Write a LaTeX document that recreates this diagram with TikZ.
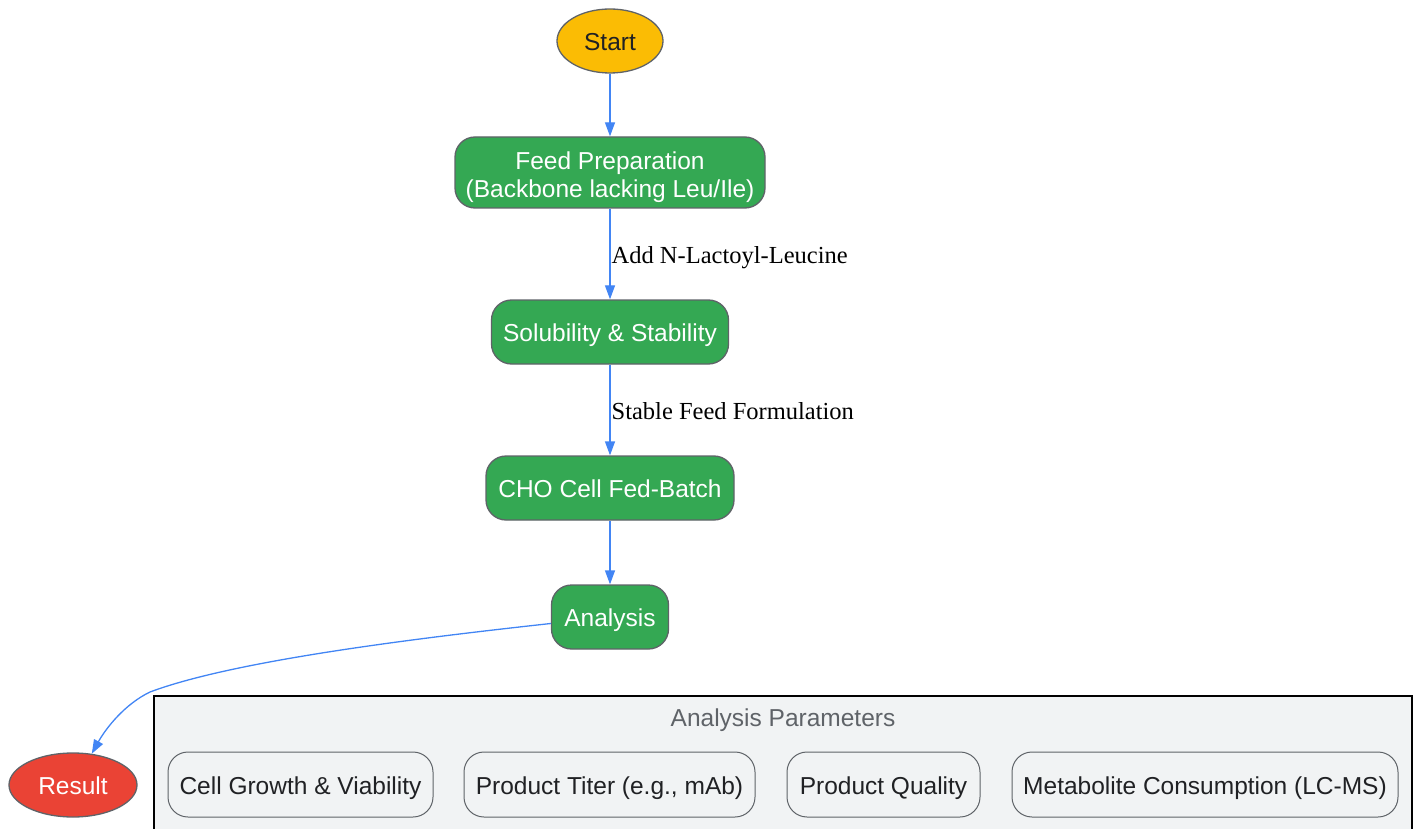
\documentclass[tikz,border=0pt]{standalone}
\usepackage{fontspec}
\setmainfont{Liberation Serif}
\newfontfamily\sansf{Liberation Sans}
\usepackage{tikz}
\usetikzlibrary{shapes.geometric,arrows.meta,positioning}

\definecolor{gyellow}{HTML}{FBBC04}
\definecolor{ggreen}{HTML}{34A853}
\definecolor{gred}{HTML}{EA4335}
\definecolor{gblue}{HTML}{4285F4}
\definecolor{gborder}{HTML}{5F6368}
\definecolor{gpanel}{HTML}{F1F3F4}
\definecolor{gtext}{HTML}{202124}

\begin{document}
\begin{tikzpicture}[x=1pt, y=-1pt, font=\sansf\fontsize{24.5}{28}\selectfont,
  oneline/.style={text height=19.6pt, text depth=0pt},
  stage/.style={rectangle, draw=gborder, line width=1.3pt, rounded corners=20pt, fill=ggreen, text=white, minimum height=64pt, align=center},
  oval/.style={ellipse, draw=gborder, line width=1.3pt, minimum height=64pt, inner sep=0pt, oneline},
  param/.style={rectangle, draw=gborder, line width=1pt, rounded corners=20pt, fill=gpanel, text=gtext, minimum height=65pt, oneline},
  flow/.style={draw=gblue, line width=1.3pt, -{Triangle[length=14pt,width=10pt]}},
  edgelabel/.style={right, inner sep=1pt, font=\rmfamily\fontsize{24.5}{28}\selectfont, text=black, oneline}]
  \useasboundingbox (0,0) rectangle (1417,829);

  % main chain
  \node[oval, fill=gyellow, text=gtext, minimum width=106pt] (start) at (610,41) {Start};
  \node[stage, minimum width=310pt, minimum height=71pt] (feed) at (610,172.5) {\rule{0pt}{28pt}Feed Preparation\\(Backbone lacking Leu/Ile)};
  \node[stage, oneline, minimum width=237pt] (sol) at (610,332) {Solubility \& Stability};
  \node[stage, oneline, minimum width=248pt] (cho) at (610,488) {CHO Cell Fed-Batch};
  \node[stage, oneline, minimum width=117pt] (ana) at (610,617) {Analysis};
  \node[oval, fill=gred, text=white, minimum width=128pt] (res) at (73,785) {Result};

  % analysis parameters
  \filldraw[draw=black, line width=1.3pt, fill=gpanel] (154,696) rectangle (1412,840);
  \node[text=gborder, oneline] (ptitle) at (783,716.5) {Analysis Parameters};
  \node[param, minimum width=265pt] (growth) at (300.5,784.5) {Cell Growth \& Viability};
  \node[param, minimum width=291pt] (titer) at (609.5,784.5) {Product Titer (e.g., mAb)};
  \node[param, minimum width=193pt] (quality) at (883.5,784.5) {Product Quality};
  \node[param, minimum width=386pt] (metab) at (1205,784.5) {Metabolite Consumption (LC-MS)};

  % connectors
  \draw[flow] (start) -- (feed);
  \draw[flow] (feed) -- node[edgelabel] {Add N-Lactoyl-Leucine} (sol);
  \draw[flow] (sol) -- node[edgelabel] {Stable Feed Formulation} (cho);
  \draw[flow] (cho) -- (ana);
  \draw[flow] ([yshift=-6.5pt]ana.west) .. controls (400,640) and (230,662) .. (150,692)
    .. controls (125,704) and (106,728) .. (res.59);
\end{tikzpicture}
\end{document}
